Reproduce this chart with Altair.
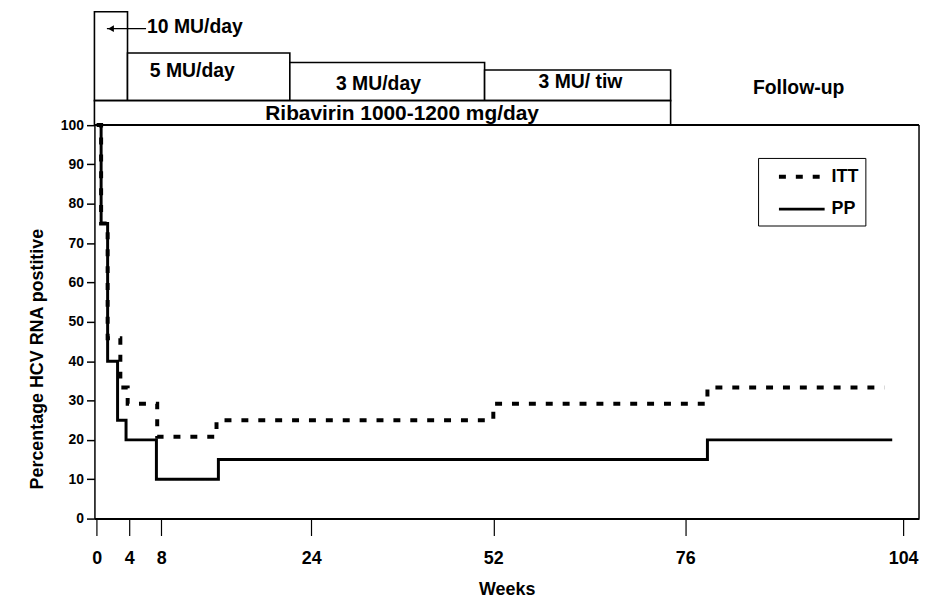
import altair as alt
import pandas as pd

# ---- survival-type step curves (week, % HCV RNA positive) ----
pp_weeks = [0, 0.54, 1.34, 2.56, 3.6, 7.4, 14.1, 78.85, 102.6]
pp_pct = [100, 75, 40, 25, 20, 10, 15, 20, 20]
itt_weeks = [0, 0.54, 1.34, 2.9, 3.8, 7.5, 13.9, 52.0, 78.85, 101.6]
itt_pct = [100, 75, 45.8, 33.3, 29.2, 20.8, 25, 29.2, 33.3, 33.3]
series_names = ["ITT", "PP"]

x_ticks = [0, 4, 8, 24, 52, 76, 104]
y_ticks = [0, 10, 20, 30, 40, 50, 60, 70, 80, 90, 100]

# ---- treatment schedule (weeks) drawn above the plot ----
box_label = ["10 MU/day", "5 MU/day", "3 MU/day", "3 MU/ tiw", "Ribavirin"]
box_start = [-0.28, 3.78, 21.72, 50.66, -0.28]
box_end = [3.78, 21.72, 50.66, 74.17, 74.17]
box_low = [106.2, 106.2, 106.2, 106.2, 100]
box_high = [128.8, 118.3, 115.9, 114.0, 106.2]

dose_text = ["10 MU/day", "5 MU/day", "3 MU/day", "3 MU/ tiw", "Follow-up"]
dose_week = [6.23, 6.57, 27.8, 57.65, 84.7]
dose_level = [123.4, 112.1, 108.8, 109.4, 107.8]

riba_text = ["Ribavirin 1000-1200 mg/day"]
riba_week = [19.1]
riba_level = [101.4]

arrow_week = [1.25, 6.1]
arrow_head_week = [1.75]
arrow_level = [124.5]

# axis extent (weeks / percent)
x_min, x_max = -0.28, 106.04
frame_top = 100

FONT = "Liberation Sans, Arial, Helvetica, sans-serif"

curves = pd.DataFrame(
    {
        "week": itt_weeks + pp_weeks,
        "pct": itt_pct + pp_pct,
        "series": ["ITT"] * len(itt_weeks) + ["PP"] * len(pp_weeks),
    }
)
boxes = pd.DataFrame(
    {"label": box_label, "start": box_start, "end": box_end, "low": box_low, "high": box_high}
)
doses = pd.DataFrame({"text": dose_text, "week": dose_week, "level": dose_level})
riba = pd.DataFrame({"text": riba_text, "week": riba_week, "level": riba_level})
arrow = pd.DataFrame({"w1": [arrow_week[0]], "w2": [arrow_week[1]], "level": arrow_level})
arrow_head = pd.DataFrame({"week": arrow_head_week, "level": arrow_level})
frame_h = pd.DataFrame({"w1": [x_min], "w2": [x_max], "level": [frame_top]})
frame_v = pd.DataFrame({"week": [x_max], "l1": [0], "l2": [frame_top]})

xscale = alt.Scale(
    domain=[x_min, 0, 4, 8, 24, 52, 76, 104, x_max],
    range=[0, 2.3, 35.1, 67.2, 218.2, 401.5, 594.7, 814, 830],
    nice=False,
    zero=False,
)
yscale = alt.Scale(domain=[0, 129], nice=False, zero=False)

xaxis = alt.Axis(
    values=x_ticks,
    title="Weeks",
    grid=False,
    tickSize=17,
    tickColor="black",
    tickWidth=1.2,
    domainColor="black",
    domainWidth=2,
    labelFont=FONT,
    labelFontSize=18,
    labelFontWeight="bold",
    labelColor="black",
    labelPadding=14,
    labelFlush=False,
    titleFont=FONT,
    titleFontSize=18,
    titleFontWeight="bold",
    titleColor="black",
    titlePadding=13,
)
yaxis = alt.Axis(
    values=y_ticks,
    title="Percentage HCV RNA postitive",
    grid=False,
    tickSize=8,
    tickColor="black",
    tickWidth=1.5,
    domainColor="black",
    domainWidth=1.5,
    labelFont=FONT,
    labelFontSize=14,
    labelFontWeight="bold",
    labelColor="black",
    labelPadding=3,
    labelFlush=False,
    titleFont=FONT,
    titleFontSize=18,
    titleFontWeight="bold",
    titleColor="black",
    titleX=-57,
    titleY=350,
    titleAngle=270,
    titleAlign="center",
    titleBaseline="middle",
)

legend = alt.Legend(
    title=None,
    orient="none",
    legendX=668,
    legendY=148,
    strokeColor="black",
    fillColor="white",
    padding=7,
    rowPadding=12,
    symbolType="M-2.3,0H2.3",
    symbolSize=400,
    symbolOffset=25,
    labelFont=FONT,
    labelFontSize=18,
    labelFontWeight="bold",
    labelColor="black",
    labelOffset=18,
    labelExpr="datum.label + '    '",
)

lines = (
    alt.Chart(curves)
    .mark_line(interpolate="step-after", strokeCap="butt")
    .encode(
        x=alt.X("week:Q", scale=xscale, axis=xaxis),
        y=alt.Y("pct:Q", scale=yscale, axis=yaxis),
        color=alt.Color(
            "series:N",
            scale=alt.Scale(domain=series_names, range=["black", "black"]),
            legend=legend,
        ),
        strokeDash=alt.StrokeDash(
            "series:N",
            scale=alt.Scale(domain=series_names, range=[[7, 10], [1, 0]]),
            legend=legend,
        ),
        strokeWidth=alt.StrokeWidth(
            "series:N",
            scale=alt.Scale(domain=series_names, range=[4, 3]),
            legend=legend,
        ),
    )
)

box_layer = (
    alt.Chart(boxes)
    .mark_rect(fill="white", stroke="black", strokeWidth=1.6)
    .encode(x="start:Q", x2="end:Q", y="low:Q", y2="high:Q")
)

dose_layer = (
    alt.Chart(doses)
    .mark_text(align="left", baseline="alphabetic", font=FONT, fontSize=19.5, fontWeight="bold", color="black")
    .encode(x="week:Q", y="level:Q", text="text:N")
)
riba_layer = (
    alt.Chart(riba)
    .mark_text(align="left", baseline="alphabetic", font=FONT, fontSize=21, fontWeight="bold", color="black")
    .encode(x="week:Q", y="level:Q", text="text:N")
)

arrow_line = alt.Chart(arrow).mark_rule(color="black", strokeWidth=1.2).encode(
    x="w1:Q", x2="w2:Q", y="level:Q"
)
arrow_tip = alt.Chart(arrow_head).mark_point(
    shape="triangle-left", filled=True, color="black", size=45, opacity=1
).encode(x="week:Q", y="level:Q")

frame_top_rule = alt.Chart(frame_h).mark_rule(color="black", strokeWidth=2).encode(
    x="w1:Q", x2="w2:Q", y="level:Q"
)
frame_right_rule = alt.Chart(frame_v).mark_rule(color="black", strokeWidth=1.5).encode(
    x="week:Q", y="l1:Q", y2="l2:Q"
)

chart = (
    alt.layer(
        box_layer,
        frame_top_rule,
        frame_right_rule,
        lines,
        dose_layer,
        riba_layer,
        arrow_line,
        arrow_tip,
    )
    .properties(
        width=830,
        height=511,
        autosize=alt.AutoSizeParams(type="none"),
        padding={"left": 87, "top": 1, "right": 3, "bottom": 79},
        background="white",
    )
    .configure_view(stroke=None)
)

chart.save("out.html", embed_options={"renderer": "svg", "actions": False})
